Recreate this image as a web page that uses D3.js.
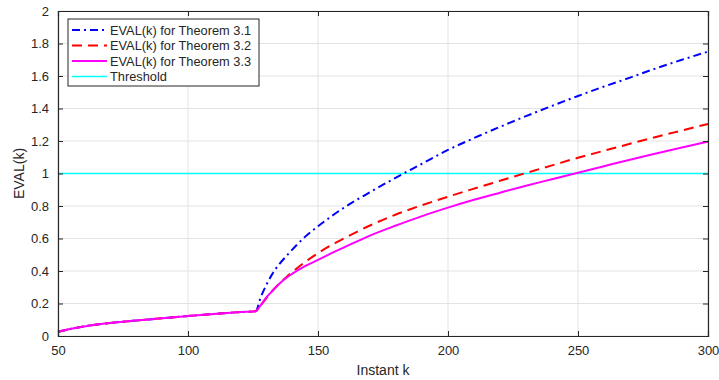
<!DOCTYPE html>
<html>
<head>
<meta charset="utf-8">
<script src="https://cdn.jsdelivr.net/npm/d3@7"></script>
<style>
  body { margin: 0; background: #fff; }
  svg { font-family: "Liberation Sans", Arial, sans-serif; }
</style>
</head>
<body>
<div id="chart"></div>
<script>
// shared part before the switch at k = 126
const earlyK = [50, 55, 60, 65, 70, 75, 80, 85, 90, 95, 100, 105, 110, 115, 120, 126];
const earlyVal = [0.026, 0.044, 0.059, 0.071, 0.080, 0.088, 0.095, 0.102, 0.109, 0.116, 0.123, 0.129, 0.136, 0.142, 0.147, 0.153];

// after the switch
const lateK = [128, 130, 132, 135, 138, 140, 145, 150, 155, 160, 170, 180, 190, 200, 210, 220, 230, 240, 250, 260, 270, 280, 290, 300];
const evalThm31 = [0.24, 0.31, 0.37, 0.44, 0.495, 0.53, 0.61, 0.675, 0.735, 0.79, 0.885, 0.975, 1.06, 1.145, 1.218, 1.287, 1.353, 1.416, 1.477, 1.535, 1.59, 1.647, 1.70, 1.75];
const evalThm32 = [0.19, 0.23, 0.27, 0.32, 0.365, 0.392, 0.455, 0.51, 0.558, 0.60, 0.68, 0.748, 0.805, 0.857, 0.907, 0.955, 1.003, 1.05, 1.097, 1.14, 1.183, 1.225, 1.265, 1.305];
const evalThm33 = [0.19, 0.235, 0.27, 0.32, 0.36, 0.382, 0.43, 0.468, 0.508, 0.545, 0.618, 0.68, 0.738, 0.79, 0.838, 0.882, 0.925, 0.965, 1.005, 1.045, 1.085, 1.123, 1.16, 1.196];

const thresholdK = [50, 300];
const thresholdVal = [1, 1];

const xTicks = [50, 100, 150, 200, 250, 300];
const yTicks = [0, 0.2, 0.4, 0.6, 0.8, 1, 1.2, 1.4, 1.6, 1.8, 2];

const seriesNames = ["EVAL(k) for Theorem 3.1", "EVAL(k) for Theorem 3.2", "EVAL(k) for Theorem 3.3", "Threshold"];

const width = 719, height = 380;
const margin = {top: 11, right: 11, bottom: 44, left: 58};
const plotW = width - margin.left - margin.right;
const plotH = height - margin.top - margin.bottom;

const zip = (ks, vs) => ks.map((k, i) => ({k: k, v: vs[i]}));
const early = zip(earlyK, earlyVal);

const series = [
  {name: seriesNames[0], color: "#0000ff", dash: "8,4,2,4", w: 2, data: early.concat(zip(lateK, evalThm31))},
  {name: seriesNames[1], color: "#ff0000", dash: "10,6", w: 2, data: early.concat(zip(lateK, evalThm32))},
  {name: seriesNames[2], color: "#ff00ff", dash: null, w: 2, data: early.concat(zip(lateK, evalThm33))},
  {name: seriesNames[3], color: "#00ffff", dash: null, w: 1.4, data: zip(thresholdK, thresholdVal)}
];

let svg = d3.select("#chart").append("svg")
  .attr("width", width)
  .attr("height", height);

let xScale = d3.scaleLinear().domain([50, 300]).range([0, plotW]);
let yScale = d3.scaleLinear().domain([0, 2]).range([plotH, 0]);

let g = svg.append("g").attr("transform", "translate(" + margin.left + "," + margin.top + ")");

// grid
g.append("g").selectAll("line").data(xTicks).enter().append("line")
  .attr("x1", d => xScale(d)).attr("x2", d => xScale(d))
  .attr("y1", 0).attr("y2", plotH)
  .attr("stroke", "#e3e3e3").attr("stroke-width", 1);
g.append("g").selectAll("line").data(yTicks.filter(d => d !== 1)).enter().append("line")
  .attr("y1", d => yScale(d)).attr("y2", d => yScale(d))
  .attr("x1", 0).attr("x2", plotW)
  .attr("stroke", "#e3e3e3").attr("stroke-width", 1);

// threshold first, then the curves on top
const lineGen = d3.line()
  .x(d => xScale(d.k))
  .y(d => yScale(d.v))
  .curve(d3.curveMonotoneX);

const drawOrder = [3, 0, 1, 2];
drawOrder.forEach((i) => {
  const s = series[i];
  let p = g.append("path")
    .datum(s.data)
    .attr("d", lineGen)
    .attr("fill", "none")
    .style("stroke", s.color)
    .attr("stroke-width", s.w);
  if (s.dash) p.attr("stroke-dasharray", s.dash);
});

// axes, matlab style: ticks inward, box all around
const axisColor = "#262626";
let xAxis = d3.axisBottom(xScale).tickValues(xTicks).tickSize(-5).tickPadding(10).tickFormat(d3.format("d"));
let yAxis = d3.axisLeft(yScale).tickValues(yTicks).tickSize(-5).tickPadding(9).tickFormat(d => d3.format("")(d));

let xa = g.append("g").attr("transform", "translate(0," + plotH + ")").call(xAxis);
let ya = g.append("g").call(yAxis);
let xt = g.append("g").call(d3.axisTop(xScale).tickValues(xTicks).tickSize(-5).tickFormat(""));
let yr = g.append("g").attr("transform", "translate(" + plotW + ",0)").call(d3.axisRight(yScale).tickValues(yTicks).tickSize(-5).tickFormat(""));

[xa, ya, xt, yr].forEach((a) => {
  a.select(".domain").attr("stroke", axisColor).attr("stroke-width", 1.2);
  a.selectAll(".tick line").attr("stroke", axisColor);
  a.selectAll("text").attr("fill", axisColor).style("font-size", "13px").style("font-family", "'Liberation Sans', Arial, sans-serif");
});

// axis labels
svg.append("text")
  .attr("x", margin.left + plotW / 2)
  .attr("y", 375)
  .attr("text-anchor", "middle")
  .attr("fill", axisColor)
  .style("font-size", "14px")
  .text("Instant k");

svg.append("text")
  .attr("transform", "translate(24," + (margin.top + plotH / 2) + ") rotate(-90)")
  .attr("text-anchor", "middle")
  .attr("fill", axisColor)
  .style("font-size", "14px")
  .text("EVAL(k)");

// legend
let legend = svg.append("g").attr("transform", "translate(68,19)");
legend.append("rect")
  .attr("width", 191).attr("height", 67)
  .attr("fill", "#fff").attr("stroke", axisColor).attr("stroke-width", 1);

series.forEach((s, i) => {
  const yy = 11 + i * 15.5;
  let l = legend.append("line")
    .attr("x1", 4).attr("x2", 39)
    .attr("y1", yy).attr("y2", yy)
    .style("stroke", s.color)
    .attr("stroke-width", s.w);
  if (s.dash) l.attr("stroke-dasharray", s.dash);
  legend.append("text")
    .attr("x", 42).attr("y", yy + 4.5)
    .attr("fill", axisColor)
    .style("font-size", "12.8px")
    .text(s.name);
});
</script>
</body>
</html>
